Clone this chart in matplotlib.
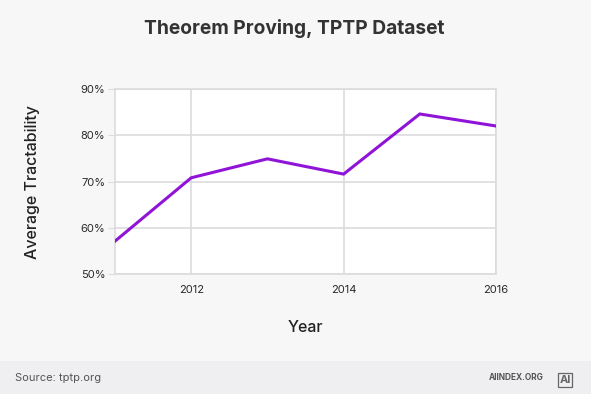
import matplotlib.pyplot as plt
from matplotlib.ticker import FuncFormatter

years = [2011, 2012, 2013, 2014, 2015, 2016]
tractability = [57.1, 70.8, 74.9, 71.6, 84.6, 82.0]
xticks = [2012, 2014, 2016]
yticks = [50, 60, 70, 80, 90]

plt.rcParams['font.family'] = ['Inter', 'DejaVu Sans']

fig = plt.figure(figsize=(5.91, 3.94), dpi=100)
fig.patch.set_facecolor('#f7f7f8')

# footer band
fig.patches.append(plt.Rectangle((0, 0), 1, 33 / 394, transform=fig.transFigure,
                                 facecolor='#efeff1', edgecolor='none', zorder=0))

ax = fig.add_axes([115 / 591, 1 - 274 / 394, 381 / 591, 185 / 394])
ax.set_facecolor('white')
ax.plot(years, tractability, color='#9013d8', lw=2.2, solid_joinstyle='miter', zorder=3)

ax.set_xlim(2011, 2016)
ax.set_ylim(50, 90)
ax.set_xticks(xticks)
ax.set_yticks(yticks)
ax.yaxis.set_major_formatter(FuncFormatter(lambda v, p: f'{v:.0f}%'))
ax.grid(True, color='#dcdcdf', lw=1.2)
for s in ax.spines.values():
    s.set_color('#dcdcdf')
    s.set_linewidth(1.2)
ax.tick_params(axis='y', length=5, color='#dcdcdf', labelsize=8, labelcolor='#2a2a2a', pad=2)
ax.tick_params(axis='x', length=0, labelsize=8, labelcolor='#2a2a2a', pad=8)

fig.text(294 / 591, 1 - 28 / 394, 'Theorem Proving, TPTP Dataset', ha='center', va='center',
         fontsize=13.8, fontweight='bold', color='#333333')
fig.text(33 / 591, 1 - 182 / 394, 'Average Tractability', ha='center', va='center',
         rotation=90, fontsize=11.5, fontweight='medium', color='#222222')
fig.text(305 / 591, 1 - 327 / 394, 'Year', ha='center', va='center',
         fontsize=11.5, fontweight='medium', color='#222222')

fig.text(15 / 591, 1 - 378 / 394, 'Source: tptp.org', ha='left', va='center',
         fontsize=8, color='#555555')
fig.text(544 / 591, 1 - 378 / 394, 'AIINDEX.ORG', ha='right', va='center',
         fontsize=6, fontweight='bold', color='#555555')
# little logo
fig.text(565 / 591, 1 - 380 / 394, 'AI', ha='center', va='center',
         fontsize=8, fontweight='bold', color='#666666',
         bbox=dict(boxstyle='square,pad=0.15', fc='none', ec='#666666', lw=0.9))

fig.savefig('out.png', dpi=100, facecolor=fig.get_facecolor())
